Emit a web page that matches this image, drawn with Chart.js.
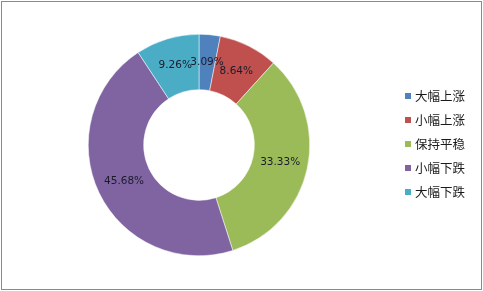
<!DOCTYPE html>
<html><head><meta charset="utf-8">
<script src="https://cdn.jsdelivr.net/npm/chart.js@4.4.1/dist/chart.umd.min.js"></script>
<style>html,body{margin:0;padding:0;background:#fff}#wrap{width:483px;height:291px;position:relative}</style>
</head><body><div id="wrap"><canvas id="c" width="483" height="291"></canvas></div>
<script>
const categories = ['大幅上涨','小幅上涨','保持平稳','小幅下跌','大幅下跌'];
const values = [3.09, 8.64, 33.33, 45.68, 9.26];
const valueLabels = ['3.09%','8.64%','33.33%','45.68%','9.26%'];
const colors = ['#4F81BD','#C0504D','#9BBB59','#8064A2','#4BACC6'];

const decor = {
  id:'decor',
  afterDatasetsDraw(chart){
    const ctx = chart.ctx;
    const meta = chart.getDatasetMeta(0);
    ctx.save();
    ctx.font = '10.5px "DejaVu Sans", sans-serif';
    ctx.fillStyle = '#1b1b2b';
    ctx.textAlign = 'center';
    ctx.textBaseline = 'middle';
    meta.data.forEach((arc,i)=>{
      const p = arc.getProps(['x','y','startAngle','endAngle','innerRadius','outerRadius'], true);
      const a = (p.startAngle+p.endAngle)/2;
      const r = (p.innerRadius+p.outerRadius)/2;
      ctx.fillText(valueLabels[i], p.x + Math.cos(a)*r, p.y + Math.sin(a)*r);
    });
    // legend
    ctx.textAlign = 'left';
    ctx.font = '12.5px "Noto Sans CJK SC", sans-serif';
    categories.forEach((c,i)=>{
      const y = 96 + i*24;
      ctx.fillStyle = colors[i];
      ctx.fillRect(405, y-3, 6, 6);
      ctx.fillStyle = '#1a1a1a';
      ctx.fillText(c, 415, y);
    });
    ctx.strokeStyle = '#8a8a8a';
    ctx.lineWidth = 1;
    ctx.strokeRect(1.5,1.5,480,288);
    ctx.restore();
  }
};

new Chart(document.getElementById('c'), {
  type:'doughnut',
  data:{labels:categories, datasets:[{data:values, backgroundColor:colors, borderColor:'#ffffff', borderWidth:0.5}]},
  options:{
    responsive:false, animation:false, cutout:'50%',
    layout:{padding:{left:88,right:173,top:34,bottom:35}},
    plugins:{legend:{display:false}, tooltip:{enabled:false}}
  },
  plugins:[decor]
});
</script></body></html>
